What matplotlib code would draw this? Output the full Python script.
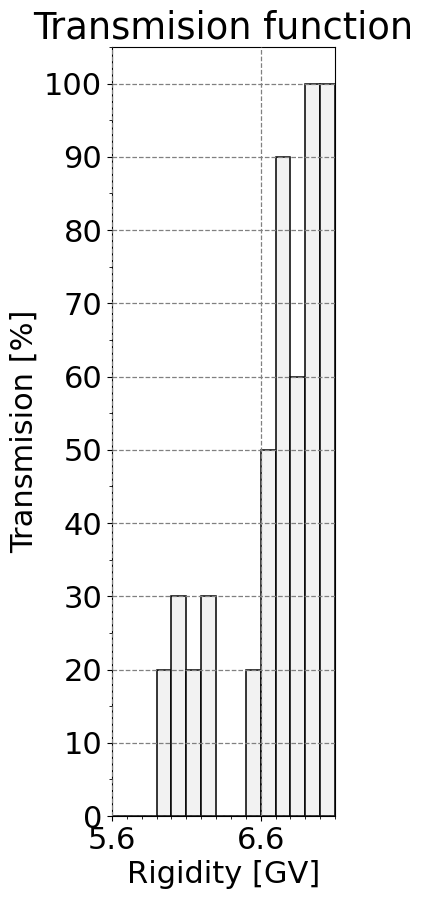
import matplotlib
matplotlib.use("Agg")
import matplotlib.pyplot as plt
import numpy as np
from matplotlib.ticker import MultipleLocator

# Data
bin_edges = np.round(np.arange(5.6, 7.1001, 0.1), 2)
transmision = [0, 0, 0, 20, 30, 20, 30, 0, 0, 20, 50, 90, 60, 100, 100]

fig = plt.figure(figsize=(4.23, 9.0), dpi=100)
ax = fig.add_axes([112 / 423, 1 - 816 / 900, (335 - 112) / 423, (816 - 47) / 900])

ax.bar(bin_edges[:-1], transmision, width=0.1, align="edge",
       color="#f2f2f2", edgecolor="black", linewidth=1.1)

ax.set_xlim(5.6, 7.1)
ax.set_ylim(0, 105)
ax.xaxis.set_major_locator(MultipleLocator(1.0))
ax.xaxis.set_minor_locator(MultipleLocator(0.1))
ax.yaxis.set_major_locator(MultipleLocator(10))
ax.yaxis.set_minor_locator(MultipleLocator(5))
ax.set_xticks([5.6, 6.6])
ax.set_xticklabels(["5.6", "6.6"])

ax.grid(True, which="major", color="gray", linestyle="--", linewidth=0.9)
ax.set_axisbelow(False)

ax.tick_params(axis="both", which="major", labelsize=22)
ax.set_xlabel("Rigidity [GV]", fontsize=22)
ax.set_ylabel("Transmision [%]", fontsize=22)
ax.set_title("Transmision function", fontsize=26.5)

fig.savefig("out.png", dpi=100)
